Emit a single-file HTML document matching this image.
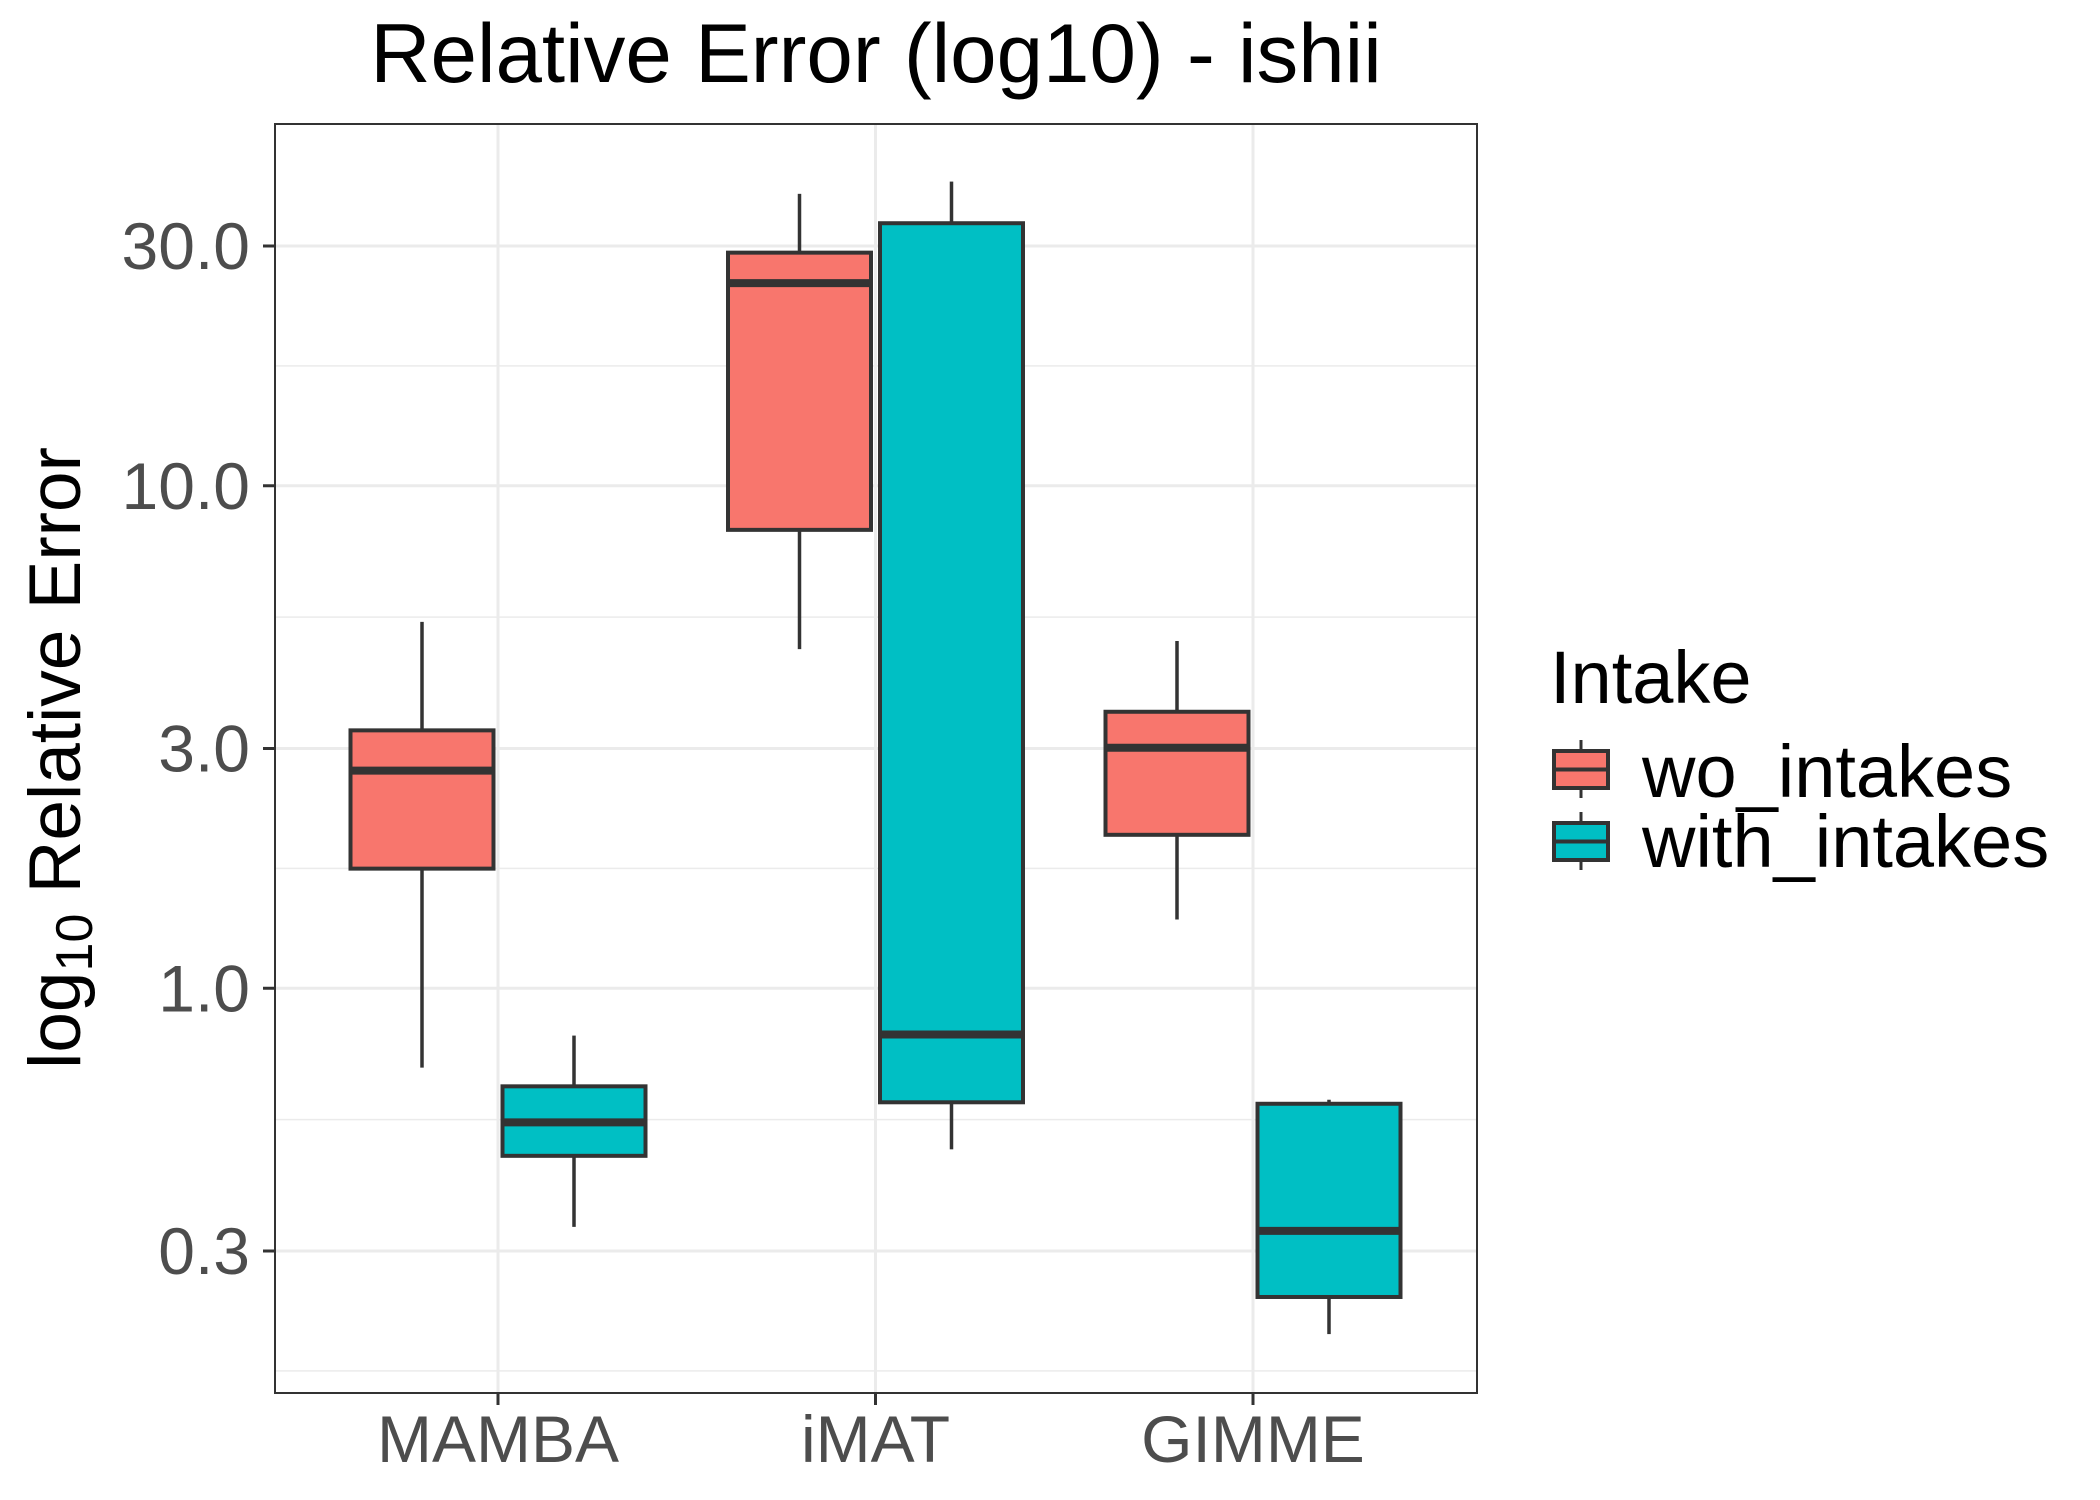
<!DOCTYPE html>
<html><head><meta charset="utf-8"><style>
html,body{margin:0;padding:0;background:#fff;}
svg{display:block;font-family:"Liberation Sans",Arial,sans-serif;}
</style></head><body>
<svg id="chart" width="2100" height="1500" viewBox="0 0 2100 1500" xmlns="http://www.w3.org/2000/svg">
<text x="876" y="82" font-size="83.5" text-anchor="middle" fill="#000">Relative Error (log10) - ishii</text>
<text transform="translate(80,758) rotate(-90)" font-size="73" text-anchor="middle" fill="#000">log<tspan font-size="52" dy="12">10</tspan><tspan dy="-12"> Relative Error</tspan></text>
<g id="plot"></g>
<g>
<text x="1550" y="703" font-size="74" fill="#000">Intake</text>
<g>
<line x1="1581" y1="740" x2="1581" y2="798" stroke="#333" stroke-width="3"/>
<rect x="1554" y="751" width="54" height="37" fill="#F8766D" stroke="#333" stroke-width="4"/>
<line x1="1554" y1="769.5" x2="1608" y2="769.5" stroke="#333" stroke-width="4"/>
<text x="1642" y="797" font-size="74" fill="#000">wo_intakes</text>
</g>
<g>
<line x1="1581" y1="812" x2="1581" y2="870" stroke="#333" stroke-width="3"/>
<rect x="1554" y="823" width="54" height="37" fill="#00BFC4" stroke="#333" stroke-width="4"/>
<line x1="1554" y1="841.5" x2="1608" y2="841.5" stroke="#333" stroke-width="4"/>
<text x="1642" y="867" font-size="74" fill="#000">with_intakes</text>
</g>
</g>
</svg>
<script>
const categories = ["MAMBA", "iMAT", "GIMME"];
const groups = ["wo_intakes", "with_intakes"];
const groupColors = ["#F8766D", "#00BFC4"];
// [lowWhisker, Q1, median, Q3, highWhisker] per category
const woStats = [
  [0.695, 1.73, 2.71, 3.26, 5.36],
  [4.73, 8.17, 25.3, 29.1, 38.1],
  [1.37, 2.02, 3.01, 3.55, 4.91]
];
const withStats = [
  [0.335, 0.464, 0.541, 0.638, 0.805],
  [0.478, 0.593, 0.809, 33.3, 40.3],
  [0.205, 0.243, 0.329, 0.589, 0.600]
];
const yTicks = [0.3, 1, 3, 30, 10];
const yTickLabels = ["0.3", "1.0", "3.0", "30.0", "10.0"];
const yMinor = [0.3 / Math.sqrt(3), Math.sqrt(0.3), Math.sqrt(3), Math.sqrt(30), Math.sqrt(300)];

const NS = "http://www.w3.org/2000/svg";
const PL = 275, PR = 1477, PT = 124, PB = 1393;
const DECADE = 502.5;
function y(v) { return 246 + (Math.log10(30) - Math.log10(v)) * DECADE; }
const STEP = 377.5;
function x(i) { return 498 + i * STEP; }
const g = document.getElementById("plot");
function mk(tag, attrs, parent) {
  const e = document.createElementNS(NS, tag);
  for (const k in attrs) e.setAttribute(k, attrs[k]);
  (parent || g).appendChild(e);
  return e;
}
mk("rect", {x: PL, y: PT, width: PR - PL, height: PB - PT, fill: "#fff"});
yMinor.forEach(v => {
  const l = mk("line", {x1: PL, x2: PR, y1: y(v), y2: y(v), stroke: "#ebebeb", "stroke-width": 1.5});
  
  
});
yTicks.forEach((v, i) => {
  const l = mk("line", {x1: PL, x2: PR, y1: y(v), y2: y(v), stroke: "#ebebeb", "stroke-width": 3});
  
  
  const t = mk("line", {x1: 263, x2: PL, y1: y(v), y2: y(v), stroke: "#333", "stroke-width": 3});
  
  
  const tx = mk("text", {x: 250, y: y(v) + 23, "font-size": 66, "text-anchor": "end", fill: "#4d4d4d"});
  tx.textContent = yTickLabels[i];
  
  
});
categories.forEach((c, i) => {
  const l = mk("line", {x1: x(i), x2: x(i), y1: PT, y2: PB, stroke: "#ebebeb", "stroke-width": 3});
  
  
});
const HALF = 71.5, DODGE = 76;
[woStats, withStats].forEach((stats, gi) => {
  stats.forEach((s, i) => {
    const cx = x(i) + (gi === 0 ? -DODGE : DODGE);
    const grp = mk("g", {});
    
    
    mk("line", {x1: cx, x2: cx, y1: y(s[4]), y2: y(s[3]), stroke: "#333", "stroke-width": 3.5}, grp);
    mk("line", {x1: cx, x2: cx, y1: y(s[1]), y2: y(s[0]), stroke: "#333", "stroke-width": 3.5}, grp);
    mk("rect", {x: cx - HALF, y: y(s[3]), width: 2 * HALF, height: y(s[1]) - y(s[3]), fill: groupColors[gi], stroke: "#333", "stroke-width": 4}, grp);
    mk("line", {x1: cx - HALF, x2: cx + HALF, y1: y(s[2]), y2: y(s[2]), stroke: "#333", "stroke-width": 8}, grp);
  });
});
const border = mk("rect", {x: PL, y: PT, width: PR - PL, height: PB - PT, fill: "none", stroke: "#333", "stroke-width": 2});


categories.forEach((c, i) => {
  const t = mk("line", {x1: x(i), x2: x(i), y1: PB, y2: PB + 12, stroke: "#333", "stroke-width": 3});
  
  
  const tx = mk("text", {x: x(i), y: 1462, "font-size": 66, "text-anchor": "middle", fill: "#4d4d4d"});
  tx.textContent = c;
  
  
});
</script>
</body></html>
